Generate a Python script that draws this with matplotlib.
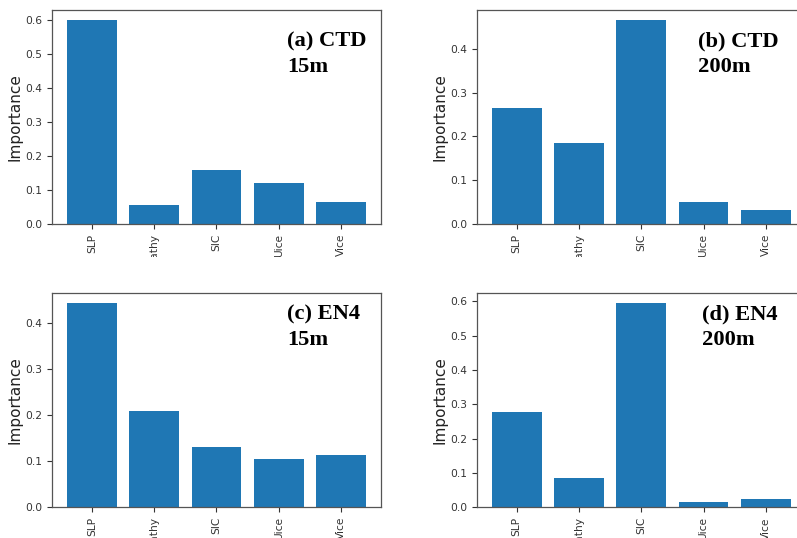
import matplotlib
matplotlib.use('Agg')
import matplotlib.pyplot as plt
from matplotlib.patches import Rectangle

# Feature importances for each product / depth
features = ['SLP', 'Bathy', 'SIC', 'Uice', 'Vice']
ctd_15m = [0.600, 0.057, 0.159, 0.120, 0.064]
ctd_200m = [0.265, 0.185, 0.465, 0.051, 0.031]
en4_15m = [0.443, 0.209, 0.131, 0.105, 0.113]
en4_200m = [0.277, 0.086, 0.595, 0.015, 0.025]

panel_titles = ['(a) CTD', '(b) CTD', '(c) EN4', '(d) EN4']
panel_depths = ['15m', '200m', '15m', '200m']

W, H = 797, 538
fig = plt.figure(figsize=(W / 100, H / 100), dpi=100, facecolor='white')


def px_axes(left, top, right, bottom):
    """Axes from a pixel box (origin at top left)."""
    return fig.add_axes([left / W, 1 - bottom / H, (right - left) / W, (bottom - top) / H])


boxes = [(52, 10, 381, 224), (476.7, 10, 805.7, 224),
         (52, 293.3, 381, 507), (476.7, 292.7, 805.7, 507.3)]
label_pos = [(287, 46.7), (697.7, 46.7), (287, 319.3), (701.7, 319.3)]
series = [ctd_15m, ctd_200m, en4_15m, en4_200m]

for box, vals, title, depth, (tx, ty) in zip(boxes, series, panel_titles, panel_depths, label_pos):
    ax = px_axes(*box)
    ax.bar(features, vals, color='#1f77b4', width=0.8)
    ax.set_ylabel('Importance', fontsize=11, color='#222222', labelpad=2)
    ax.tick_params(axis='y', labelsize=7.7, colors='#333333', length=3.5, width=0.8)
    ax.tick_params(axis='x', labelsize=7.7, colors='#333333', length=3.5, width=0.8,
                   labelrotation=90)
    for sp in ax.spines.values():
        sp.set_color('#555555')
        sp.set_linewidth(0.9)
    # panel annotation in bold serif
    fig.text(tx / W, 1 - ty / H, title, fontsize=16.2, fontweight='bold',
             family='Liberation Serif', va='baseline', ha='left')
    fig.text(tx / W, 1 - (ty + 25.6) / H, depth, fontsize=16.2, fontweight='bold',
             family='Liberation Serif', va='baseline', ha='left')

# white strip between rows trims the long tick labels of the top row
fig.patches.append(Rectangle((0, 1 - 270 / H), 1, 13 / H, transform=fig.transFigure,
                             facecolor='white', edgecolor='none', zorder=10))

plt.savefig('out.png', dpi=100, facecolor='white')
